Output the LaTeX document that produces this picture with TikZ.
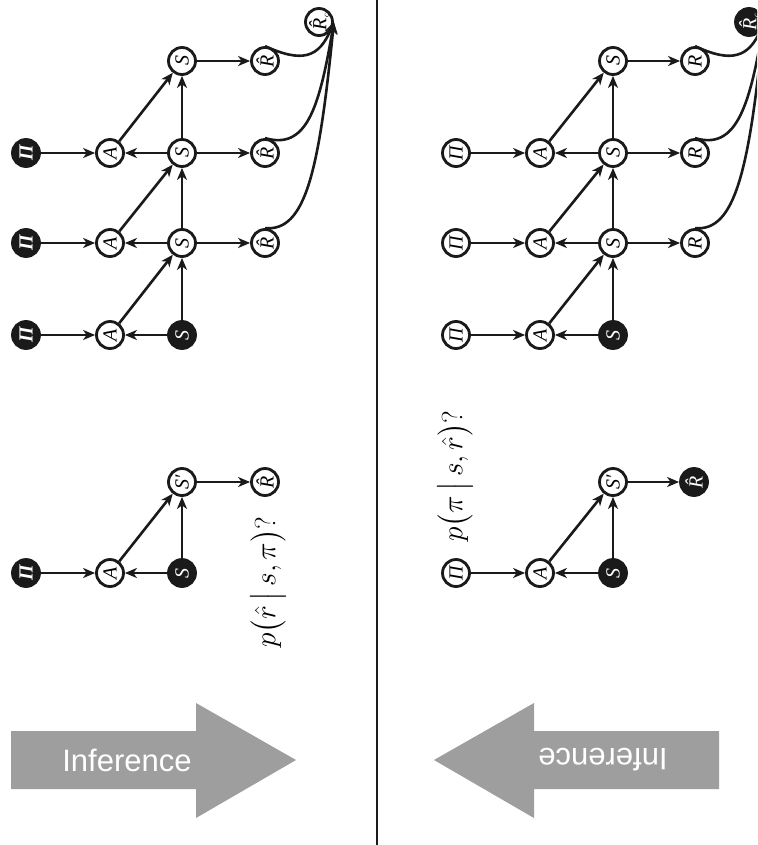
\documentclass[tikz,border=0pt]{standalone}
\usepackage{amsmath}
\usepackage{graphicx}
\usepackage{fontspec}
\newfontfamily\arialf{Liberation Sans}
\newfontfamily\timesf{Liberation Serif}
\usetikzlibrary{arrows.meta}
\definecolor{arrgray}{HTML}{9E9E9E}
\definecolor{nodeblack}{HTML}{1A1A1A}
\tikzset{
 var/.style={circle, draw=nodeblack, line width=2.8pt, minimum size=27pt, inner sep=0pt, fill=white, rotate=90, font=\timesf\itshape\fontsize{20}{20}\selectfont},
 obs/.style={var, fill=nodeblack, text=white},
 edge/.style={-{Stealth[length=12pt,width=10pt,inset=3.5pt]}, line width=2.6pt, draw=nodeblack},
 query/.style={rotate=90, font=\fontsize{24.88}{25}\selectfont, inner sep=0pt},
 bigarrow/.style={fill=arrgray},
 arrtext/.style={text=white, font=\arialf\fontsize{31}{31}\selectfont, inner sep=0pt},
}
\newcommand{\rhat}{\^R}
\newcommand{\rhatc}{\^R\kern0.5pt\raisebox{-0.25ex}{\fontsize{8}{8}\selectfont c}}
\newcommand{\piv}{\bfseries Π}
\begin{document}
\begin{tikzpicture}[x=1pt,y=-1pt]
\useasboundingbox (0,0) rectangle (757,845);
\clip (0,0) rectangle (757,845);
\fill[white] (0,0) rectangle (757,845);

% divider
\draw[line width=1.8pt, draw=nodeblack] (377,0) -- (377,845);

% ===== LEFT PANEL =====
\node[var] (lrc) at (319,22) {\rhatc};
\node[var] (ls1) at (182,61) {S};
\node[var] (lr1) at (265,61) {\rhat};
\node[obs] (lp2) at (26,153) {\piv};
\node[var] (la2) at (110,153) {A};
\node[var] (ls2) at (182,153) {S};
\node[var] (lr2) at (265,153) {\rhat};
\node[obs] (lp3) at (26,243) {\piv};
\node[var] (la3) at (110,243) {A};
\node[var] (ls3) at (182,243) {S};
\node[var] (lr3) at (265,243) {\rhat};
\node[obs] (lp4) at (26,335) {\piv};
\node[var] (la4) at (110,335) {A};
\node[obs] (ls4) at (182,335) {S};

\foreach \i in {2,3,4} {
  \draw[edge] (lp\i) -- (la\i);
  \draw[edge] (ls\i) -- (la\i);
}
\draw[edge] (la2) -- (ls1);
\draw[edge] (la3) -- (ls2);
\draw[edge] (la4) -- (ls3);
\draw[edge] (ls2) -- (ls1);
\draw[edge] (ls3) -- (ls2);
\draw[edge] (ls4) -- (ls3);
\draw[edge] (ls1) -- (lr1);
\draw[edge] (ls2) -- (lr2);
\draw[edge] (ls3) -- (lr3);
\draw[edge] (lr1.east) .. controls (302,63) and (319,58) .. (lrc.south);
\draw[edge] (lr2.east) .. controls (306,150) and (319,110) .. (lrc.south);
\draw[edge] (lr3.east) .. controls (306,232) and (319,170) .. (lrc.south);

% small graph left
\node[obs] (lsp) at (26,573) {\piv};
\node[var] (lsa) at (110,573) {A};
\node[obs] (lss) at (182,573) {S};
\node[var] (lssp) at (182,482) {S′};
\node[var] (lsr) at (265,482) {\rhat};
\draw[edge] (lsp) -- (lsa);
\draw[edge] (lss) -- (lsa);
\draw[edge] (lsa) -- (lssp);
\draw[edge] (lss) -- (lssp);
\draw[edge] (lssp) -- (lsr);
\node[query] (lq) at (268,582) {\scalebox{1.18}{$p\bigl(\hat r\,\big|\,s,\pi\bigr)?$}};

% left inference arrow
\fill[bigarrow] (11,731) -- (196,731) -- (196,703) -- (296,760) -- (196,818) -- (196,789) -- (11,789) -- cycle;
\node[arrtext] (linf) at (127,760) {Inference};

% ===== RIGHT PANEL =====
\node[obs] (rrc) at (749,22) {\rhatc};
\node[var] (rs1) at (613,61) {S};
\node[var] (rr1) at (695,61) {R};
\node[var] (rp2) at (456,153) {Π};
\node[var] (ra2) at (540,153) {A};
\node[var] (rs2) at (613,153) {S};
\node[var] (rr2) at (695,153) {R};
\node[var] (rp3) at (456,243) {Π};
\node[var] (ra3) at (540,243) {A};
\node[var] (rs3) at (613,243) {S};
\node[var] (rr3) at (695,243) {R};
\node[var] (rp4) at (456,335) {Π};
\node[var] (ra4) at (540,335) {A};
\node[obs] (rs4) at (613,335) {S};

\foreach \i in {2,3,4} {
  \draw[edge] (rp\i) -- (ra\i);
  \draw[edge] (rs\i) -- (ra\i);
}
\draw[edge] (ra2) -- (rs1);
\draw[edge] (ra3) -- (rs2);
\draw[edge] (ra4) -- (rs3);
\draw[edge] (rs2) -- (rs1);
\draw[edge] (rs3) -- (rs2);
\draw[edge] (rs4) -- (rs3);
\draw[edge] (rs1) -- (rr1);
\draw[edge] (rs2) -- (rr2);
\draw[edge] (rs3) -- (rr3);
\draw[edge] (rr1.east) .. controls (731,63) and (749,58) .. (rrc.south);
\draw[edge] (rr2.east) .. controls (735,150) and (749,110) .. (rrc.south);
\draw[edge] (rr3.east) .. controls (735,232) and (749,170) .. (rrc.south);

% small graph right
\node[var] (rsp) at (456,573) {Π};
\node[var] (rsa) at (540,573) {A};
\node[obs] (rss) at (613,573) {S};
\node[var] (rssp) at (613,482) {S′};
\node[obs] (rsr) at (694,482) {\rhat};
\draw[edge] (rsp) -- (rsa);
\draw[edge] (rss) -- (rsa);
\draw[edge] (rsa) -- (rssp);
\draw[edge] (rss) -- (rssp);
\draw[edge] (rssp) -- (rsr);
\node[query] (rq) at (455,476) {\scalebox{1.18}{$p\bigl(\pi\,\big|\,s,\hat r\bigr)?$}};

% right inference arrow
\fill[bigarrow] (719,731) -- (534,731) -- (534,703) -- (434,760) -- (534,818) -- (534,789) -- (719,789) -- cycle;
\node[arrtext, rotate=180] (rinf) at (603,760) {Inference};
\end{tikzpicture}
\end{document}
